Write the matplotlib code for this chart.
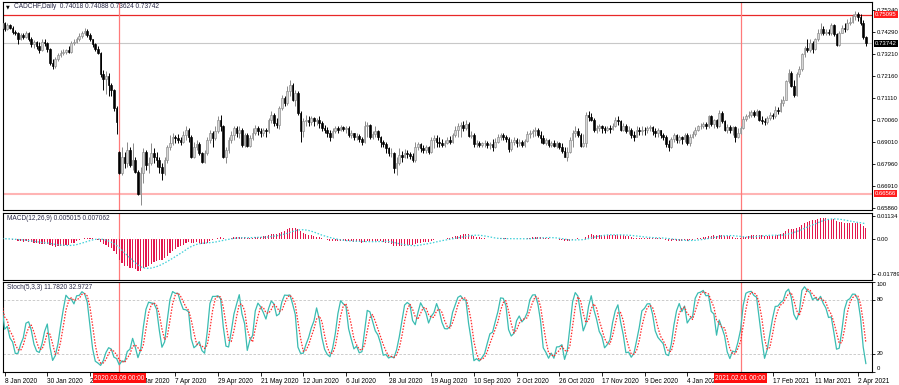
import numpy as np
import pandas as pd
import matplotlib
matplotlib.use("Agg")
import matplotlib.pyplot as plt
from matplotlib.transforms import blended_transform_factory

plt.rcParams['font.family'] = ['Liberation Sans', 'DejaVu Sans']

# ---------------- data (CADCHF daily, bars 3..327 counted from 2 Jan 2020) ----------------
FIRST_BAR = 3
FIRST_OPEN = 0.7449
GAP_OPENS = {47: 0.6857, 327: 0.74018}

close = [
    0.7470, 0.7444, 0.7460, 0.7449, 0.7428, 0.7422, 0.7396, 0.7412, 0.7406, 0.7425,
    0.7396, 0.7369, 0.7380, 0.7361, 0.7342, 0.7380, 0.7374, 0.7345, 0.7281, 0.7265,
    0.7297, 0.7316, 0.7329, 0.7332, 0.7342, 0.7332, 0.7374, 0.7380, 0.7396, 0.7409,
    0.7425, 0.7431, 0.7412, 0.7393, 0.7369, 0.7348, 0.7329, 0.7225, 0.7204, 0.7220,
    0.7177, 0.7153, 0.7065, 0.6996, 0.6753, 0.6833, 0.6801, 0.6865, 0.6793, 0.6817,
    0.6761, 0.6657, 0.6753, 0.6857, 0.6793, 0.6804, 0.6849, 0.6833, 0.6817, 0.6785,
    0.6753, 0.6817, 0.6881, 0.6897, 0.6929, 0.6921, 0.6913, 0.6905, 0.6937, 0.6961,
    0.6929, 0.6833, 0.6881, 0.6894, 0.6849, 0.6809, 0.6849, 0.6913, 0.6945, 0.6921,
    0.6953, 0.7009, 0.6977, 0.6833, 0.6865, 0.6913, 0.6937, 0.6969, 0.6945, 0.6961,
    0.6889, 0.6937, 0.6884, 0.6921, 0.6945, 0.6969, 0.6953, 0.6945, 0.6961, 0.6953,
    0.7009, 0.7033, 0.6993, 0.6985, 0.7065, 0.7113, 0.7089, 0.7145, 0.7177, 0.7105,
    0.7137, 0.7041, 0.6953, 0.7001, 0.7009, 0.6996, 0.7017, 0.7001, 0.7009, 0.6993,
    0.6969, 0.6958, 0.6948, 0.6926, 0.6953, 0.6969, 0.6961, 0.6974, 0.6964, 0.6969,
    0.6937, 0.6945, 0.6926, 0.6932, 0.6916, 0.6905, 0.6977, 0.6985, 0.6929, 0.6942,
    0.6953, 0.6926, 0.6905, 0.6894, 0.6873, 0.6849, 0.6852, 0.6777, 0.6801, 0.6841,
    0.6833, 0.6852, 0.6846, 0.6836, 0.6817, 0.6881, 0.6894, 0.6873, 0.6865, 0.6878,
    0.6857, 0.6913, 0.6921, 0.6905, 0.6897, 0.6889, 0.6900, 0.6913, 0.6905, 0.6937,
    0.6961, 0.6977, 0.6985, 0.6969, 0.6990, 0.6932, 0.6937, 0.6894, 0.6900, 0.6889,
    0.6897, 0.6900, 0.6889, 0.6894, 0.6881, 0.6905, 0.6929, 0.6937, 0.6926, 0.6916,
    0.6868, 0.6905, 0.6913, 0.6900, 0.6905, 0.6889, 0.6910, 0.6942, 0.6945, 0.6953,
    0.6961, 0.6937, 0.6921, 0.6900, 0.6913, 0.6889, 0.6900, 0.6884, 0.6897, 0.6881,
    0.6862, 0.6833, 0.6857, 0.6913, 0.6948, 0.6953, 0.6937, 0.6884, 0.6897, 0.7033,
    0.7022, 0.7009, 0.6958, 0.6969, 0.6977, 0.6969, 0.6961, 0.6969, 0.6964, 0.6980,
    0.7009, 0.7001, 0.6961, 0.6980, 0.6953, 0.6958, 0.6937, 0.6929, 0.6961, 0.6953,
    0.6961, 0.6958, 0.6969, 0.6974, 0.6953, 0.6945, 0.6958, 0.6937, 0.6926, 0.6894,
    0.6881, 0.6916, 0.6937, 0.6913, 0.6926, 0.6916, 0.6937, 0.6900, 0.6929, 0.6942,
    0.6961, 0.6977, 0.6980, 0.6990, 0.6977, 0.7025, 0.6990, 0.7006, 0.6980, 0.7041,
    0.7001, 0.6961, 0.6974, 0.6958, 0.6974, 0.6926, 0.6945, 0.6969, 0.7012, 0.7025,
    0.7033, 0.7044, 0.7033, 0.7049, 0.7009, 0.7001, 0.6996, 0.7017, 0.7033, 0.7025,
    0.7054, 0.7049, 0.7089, 0.7105, 0.7193, 0.7233, 0.7172, 0.7129, 0.7225, 0.7249,
    0.7321, 0.7353, 0.7342, 0.7377, 0.7348, 0.7393, 0.7425, 0.7444, 0.7425, 0.7428,
    0.7422, 0.7460, 0.7417, 0.7364, 0.7425, 0.7449, 0.7441, 0.7470, 0.7476, 0.7505,
    0.7513, 0.7497, 0.7473, 0.7404, 0.73742,
]

high = [
    0.7481, 0.7476, 0.7470, 0.7467, 0.7454, 0.7438, 0.7428, 0.7425, 0.7422, 0.7431,
    0.7428, 0.7406, 0.7390, 0.7387, 0.7380, 0.7393, 0.7396, 0.7380, 0.7353, 0.7297,
    0.7310, 0.7329, 0.7342, 0.7345, 0.7348, 0.7361, 0.7385, 0.7396, 0.7406, 0.7422,
    0.7433, 0.7447, 0.7441, 0.7425, 0.7396, 0.7377, 0.7361, 0.7332, 0.7246, 0.7241,
    0.7233, 0.7185, 0.7156, 0.7073, 0.6862, 0.6881, 0.6857, 0.6905, 0.6881, 0.6897,
    0.6833, 0.6769, 0.6785, 0.6873, 0.6865, 0.6833, 0.6897, 0.6873, 0.6857, 0.6833,
    0.6801, 0.6833, 0.6889, 0.6937, 0.6945, 0.6937, 0.6942, 0.6929, 0.6953, 0.6977,
    0.6969, 0.6937, 0.6905, 0.6913, 0.6905, 0.6857, 0.6865, 0.6929, 0.6961, 0.6953,
    0.6977, 0.7025, 0.7033, 0.6985, 0.6881, 0.6929, 0.6953, 0.6980, 0.6977, 0.6977,
    0.6969, 0.6945, 0.6945, 0.6937, 0.6969, 0.6985, 0.6977, 0.6969, 0.6969, 0.6969,
    0.7017, 0.7049, 0.7041, 0.7017, 0.7076, 0.7129, 0.7124, 0.7169, 0.7201, 0.7185,
    0.7153, 0.7145, 0.7049, 0.7017, 0.7033, 0.7025, 0.7028, 0.7022, 0.7017, 0.7025,
    0.7001, 0.6985, 0.6974, 0.6961, 0.6969, 0.6980, 0.6980, 0.6985, 0.6980, 0.6980,
    0.6977, 0.6958, 0.6948, 0.6945, 0.6942, 0.6929, 0.7001, 0.6996, 0.6990, 0.6953,
    0.6977, 0.6961, 0.6932, 0.6913, 0.6905, 0.6881, 0.6873, 0.6857, 0.6833, 0.6873,
    0.6862, 0.6868, 0.6865, 0.6857, 0.6849, 0.6905, 0.6905, 0.6900, 0.6889, 0.6889,
    0.6884, 0.6929, 0.6937, 0.6937, 0.6926, 0.6916, 0.6913, 0.6929, 0.6932, 0.6948,
    0.6980, 0.6993, 0.6996, 0.7001, 0.7006, 0.6996, 0.6953, 0.6945, 0.6913, 0.6910,
    0.6905, 0.6913, 0.6910, 0.6905, 0.6916, 0.6921, 0.6942, 0.6948, 0.6945, 0.6937,
    0.6926, 0.6916, 0.6926, 0.6921, 0.6916, 0.6913, 0.6916, 0.6953, 0.6958, 0.6964,
    0.6974, 0.6972, 0.6953, 0.6937, 0.6921, 0.6916, 0.6910, 0.6913, 0.6910, 0.6905,
    0.6897, 0.6881, 0.6881, 0.6929, 0.6958, 0.6977, 0.6969, 0.6945, 0.6942, 0.7044,
    0.7049, 0.7041, 0.7017, 0.6985, 0.6990, 0.6985, 0.6980, 0.6980, 0.6985, 0.6993,
    0.7022, 0.7025, 0.7009, 0.6993, 0.6990, 0.6977, 0.6969, 0.6953, 0.6977, 0.6974,
    0.6977, 0.6974, 0.6980, 0.6985, 0.6980, 0.6969, 0.6969, 0.6961, 0.6948, 0.6937,
    0.6913, 0.6929, 0.6945, 0.6942, 0.6937, 0.6932, 0.6945, 0.6945, 0.6942, 0.6953,
    0.6974, 0.6985, 0.6993, 0.6996, 0.6996, 0.7033, 0.7033, 0.7012, 0.7012, 0.7057,
    0.7049, 0.7009, 0.6990, 0.6985, 0.6980, 0.6980, 0.6969, 0.6977, 0.7025, 0.7038,
    0.7049, 0.7054, 0.7057, 0.7060, 0.7054, 0.7025, 0.7017, 0.7025, 0.7044, 0.7041,
    0.7073, 0.7070, 0.7108, 0.7121, 0.7201, 0.7249, 0.7241, 0.7201, 0.7236, 0.7265,
    0.7329, 0.7361, 0.7396, 0.7393, 0.7385, 0.7401, 0.7444, 0.7473, 0.7457, 0.7444,
    0.7441, 0.7473, 0.7465, 0.7425, 0.7433, 0.7460, 0.7470, 0.7489, 0.7497, 0.7513,
    0.7529, 0.7521, 0.7513, 0.7486, 0.74088,
]

low = [
    0.7438, 0.7433, 0.7438, 0.7441, 0.7419, 0.7412, 0.7369, 0.7390, 0.7396, 0.7399,
    0.7387, 0.7358, 0.7353, 0.7345, 0.7329, 0.7337, 0.7361, 0.7332, 0.7271, 0.7249,
    0.7257, 0.7287, 0.7310, 0.7316, 0.7321, 0.7326, 0.7329, 0.7364, 0.7374, 0.7387,
    0.7401, 0.7412, 0.7406, 0.7385, 0.7358, 0.7337, 0.7321, 0.7214, 0.7153, 0.7134,
    0.7121, 0.7124, 0.7049, 0.6942, 0.6750, 0.6745, 0.6777, 0.6785, 0.6785, 0.6769,
    0.6753, 0.6649, 0.6601, 0.6708, 0.6769, 0.6753, 0.6793, 0.6801, 0.6785, 0.6753,
    0.6724, 0.6745, 0.6801, 0.6865, 0.6889, 0.6900, 0.6897, 0.6889, 0.6897, 0.6913,
    0.6905, 0.6825, 0.6825, 0.6865, 0.6841, 0.6801, 0.6801, 0.6841, 0.6897, 0.6881,
    0.6913, 0.6945, 0.6953, 0.6825, 0.6801, 0.6849, 0.6897, 0.6913, 0.6929, 0.6921,
    0.6881, 0.6881, 0.6878, 0.6881, 0.6913, 0.6937, 0.6937, 0.6929, 0.6932, 0.6929,
    0.6948, 0.6993, 0.6980, 0.6969, 0.6964, 0.7057, 0.7073, 0.7081, 0.7121, 0.7097,
    0.7073, 0.7033, 0.6905, 0.6929, 0.6977, 0.6977, 0.6985, 0.6980, 0.6985, 0.6969,
    0.6953, 0.6945, 0.6929, 0.6910, 0.6921, 0.6948, 0.6945, 0.6953, 0.6953, 0.6948,
    0.6926, 0.6921, 0.6913, 0.6913, 0.6905, 0.6889, 0.6897, 0.6926, 0.6916, 0.6916,
    0.6929, 0.6913, 0.6881, 0.6878, 0.6849, 0.6836, 0.6830, 0.6753, 0.6745, 0.6793,
    0.6809, 0.6825, 0.6825, 0.6820, 0.6809, 0.6809, 0.6865, 0.6857, 0.6849, 0.6852,
    0.6846, 0.6852, 0.6873, 0.6881, 0.6881, 0.6878, 0.6881, 0.6894, 0.6894, 0.6897,
    0.6926, 0.6926, 0.6926, 0.6953, 0.6958, 0.6926, 0.6921, 0.6881, 0.6881, 0.6878,
    0.6878, 0.6881, 0.6873, 0.6868, 0.6862, 0.6873, 0.6897, 0.6913, 0.6913, 0.6905,
    0.6857, 0.6862, 0.6889, 0.6881, 0.6884, 0.6878, 0.6881, 0.6905, 0.6921, 0.6929,
    0.6932, 0.6929, 0.6900, 0.6894, 0.6889, 0.6881, 0.6881, 0.6878, 0.6873, 0.6868,
    0.6852, 0.6830, 0.6814, 0.6849, 0.6881, 0.6929, 0.6926, 0.6878, 0.6881, 0.6881,
    0.7001, 0.7001, 0.6951, 0.6945, 0.6953, 0.6948, 0.6948, 0.6953, 0.6948, 0.6958,
    0.6974, 0.6985, 0.6953, 0.6953, 0.6945, 0.6942, 0.6921, 0.6910, 0.6926, 0.6937,
    0.6937, 0.6937, 0.6948, 0.6953, 0.6937, 0.6929, 0.6929, 0.6921, 0.6913, 0.6881,
    0.6860, 0.6873, 0.6905, 0.6897, 0.6900, 0.6894, 0.6905, 0.6889, 0.6884, 0.6921,
    0.6932, 0.6953, 0.6964, 0.6969, 0.6964, 0.6969, 0.6980, 0.6969, 0.6969, 0.6974,
    0.6993, 0.6953, 0.6948, 0.6945, 0.6937, 0.6905, 0.6921, 0.6942, 0.6964, 0.7001,
    0.7017, 0.7022, 0.7022, 0.7025, 0.7001, 0.6990, 0.6985, 0.6990, 0.7009, 0.7015,
    0.7017, 0.7038, 0.7044, 0.7076, 0.7102, 0.7185, 0.7166, 0.7118, 0.7121, 0.7214,
    0.7241, 0.7310, 0.7332, 0.7332, 0.7329, 0.7342, 0.7385, 0.7412, 0.7412, 0.7415,
    0.7412, 0.7415, 0.7409, 0.7361, 0.7361, 0.7422, 0.7428, 0.7438, 0.7460, 0.7470,
    0.7486, 0.7481, 0.7460, 0.7396, 0.73624,
]

price_ticks = [0.75340, 0.74290, 0.73210, 0.72160, 0.71110, 0.70060, 0.69010, 0.67960, 0.66910, 0.65860]
level_high = 0.75095
level_bid = 0.73742
level_low = 0.66566
macd_ticks = [0.01134, 0.0, -0.01789]
macd_tick_labels = ['0.01134', '0.00', '-0.01789']
stoch_ticks = [100, 80, 20, 0]
marker_bars = [47, 280]
marker_labels = ['2020.03.09 00:00', '2021.02.01 00:00']
title_text = 'CADCHF,Daily  0.74018 0.74088 0.73624 0.73742'
macd_text = 'MACD(12,26,9) 0.005015 0.007062'
stoch_text = 'Stoch(5,3,3) 11.7820 32.9727'

# ---------------- derived series ----------------
c = np.array(close)
h = np.array(high)
l = np.array(low)
n = len(c)
o = np.concatenate([[FIRST_OPEN], c[:-1]])
for b, v in GAP_OPENS.items():
    o[b - FIRST_BAR] = v
h = np.maximum(h, np.maximum(o, c))
l = np.minimum(l, np.minimum(o, c))
x = np.arange(FIRST_BAR, FIRST_BAR + n)

dates = pd.bdate_range('2020-01-07', '2021-04-07')
dates = dates[~dates.isin(pd.to_datetime(['2020-12-25', '2021-01-01']))][:n]

cs = pd.Series(c)
macd = (cs.ewm(span=12, adjust=False).mean() - cs.ewm(span=26, adjust=False).mean()).values
signal = pd.Series(macd).rolling(9, min_periods=1).mean().values

hs, ls = pd.Series(h), pd.Series(l)
hh = hs.rolling(5, min_periods=1).max()
ll = ls.rolling(5, min_periods=1).min()
k = 100 * (cs - ll).rolling(3, min_periods=1).sum() / (hh - ll).rolling(3, min_periods=1).sum()
d = k.rolling(3, min_periods=1).mean()

# ---------------- figure ----------------
W, H = 899, 385
fig = plt.figure(figsize=(W / 100, H / 100), dpi=100)
fig.patch.set_facecolor('white')


def rect(x0, y0, x1, y1):
    return [x0 / W, 1 - y1 / H, (x1 - x0) / W, (y1 - y0) / H]


ax1 = fig.add_axes(rect(3, 2, 872, 210))
ax2 = fig.add_axes(rect(3, 212.5, 872, 280))
ax3 = fig.add_axes(rect(3, 282, 872, 371.5))

FS = 4.7
FSY = 4.35
XLIM = (3.39, 329.3)
for ax in (ax1, ax2, ax3):
    ax.set_xlim(*XLIM)
    for s in ax.spines.values():
        s.set_color('black')
        s.set_linewidth(0.8)
    ax.yaxis.tick_right()
    ax.tick_params(axis='y', direction='out', length=2.5, width=0.6, labelsize=FSY, pad=1.0, colors='black')
    ax.set_facecolor('white')
    for b in marker_bars:
        ax.axvline(b, color='#ff7a7a', lw=0.9, zorder=0.6)

# price candles
ax1.set_ylim(0.65785, 0.75708)
ax1.axhline(level_high, color='#e82828', lw=0.9, zorder=0.5)
ax1.axhline(level_bid, color='#c8c8c8', lw=0.8, zorder=0.5)
ax1.axhline(level_low, color='#ffb4b4', lw=1.5, zorder=0.5)
up = c >= o
ax1.vlines(x[up], l[up], h[up], color='#8a8a8a', lw=0.7, zorder=2)
ax1.vlines(x[~up], l[~up], h[~up], color='black', lw=0.7, zorder=2)
blo = np.minimum(o, c)
bh = np.maximum(np.abs(c - o), 0.00006)
ax1.bar(x[up], bh[up], bottom=blo[up], width=0.62, color='#d6d6d6', edgecolor='#8a8a8a', lw=0.45, zorder=3)
ax1.bar(x[~up], bh[~up], bottom=blo[~up], width=0.62, color='black', edgecolor='black', lw=0.45, zorder=3)
ax1.set_yticks(price_ticks)
ax1.set_yticklabels([f'{t:.5f}' for t in price_ticks])
ax1.set_xticks([])

tr1 = blended_transform_factory(ax1.transAxes, ax1.transData)
for val, fc in ((level_high, '#ff1c1c'), (level_bid, 'black'), (level_low, '#ff1c1c')):
    ax1.text(1.0035, val, f'{val:.5f}', transform=tr1, color='white', fontsize=FSY,
             va='center', ha='left', clip_on=False, zorder=10,
             bbox=dict(boxstyle='square,pad=0.18', fc=fc, ec='none'))

# MACD
ax2.set_ylim(-0.0209, 0.0131)
ax2.bar(x, macd, width=0.42, color='#e3164c', zorder=2)
ax2.plot(x, signal, color='#3fcfd8', lw=0.9, ls=(0, (1.2, 1.4)), zorder=3)
ax2.set_yticks(macd_ticks)
ax2.set_yticklabels(macd_tick_labels)
ax2.set_xticks([])

# Stochastic
ax3.set_ylim(0, 100)
ax3.axhline(80, color='#c4c4c4', lw=0.6, ls=(0, (3, 2)), zorder=0.5)
ax3.axhline(20, color='#c4c4c4', lw=0.6, ls=(0, (3, 2)), zorder=0.5)
ax3.plot(x, k.values, color='#3bbcb2', lw=0.9, zorder=3)
ax3.plot(x, d.values, color='#ff2a2a', lw=0.9, ls=(0, (1.2, 1.2)), zorder=4)
ax3.set_yticks(stoch_ticks)
ax3.set_yticklabels([str(t) for t in stoch_ticks])
for lab, t in zip(ax3.get_yticklabels(), stoch_ticks):
    lab.set_va('top' if t == 100 else ('bottom' if t == 0 else 'center'))

tick_bars = [b for b in x if (b - 4) % 16 == 0]
tick_labels = [f'{dates[b - FIRST_BAR].day} {dates[b - FIRST_BAR].strftime("%b %Y")}' for b in tick_bars]
ax3.set_xticks(tick_bars)
ax3.set_xticklabels(tick_labels)
ax3.tick_params(axis='x', direction='out', length=3, width=0.6, labelsize=FS, pad=1.5, colors='black')
for lab in ax3.get_xticklabels():
    lab.set_ha('left')

tr3 = blended_transform_factory(ax3.transData, ax3.transAxes)
for b, txt in zip(marker_bars, marker_labels):
    ax3.text(b, -0.075, txt, transform=tr3, color='white', fontsize=FS, ha='center', va='center',
             clip_on=False, zorder=10, bbox=dict(boxstyle='square,pad=0.2', fc='#ff1010', ec='none'))

# panel captions
fig.text(6 / W, 1 - 7 / H, '\u25bc', fontsize=3.5, family='DejaVu Sans', va='center', ha='left', color='black')
fig.text(14 / W, 1 - 7 / H, title_text, fontsize=FS, va='center', ha='left', color='#2a2a48')
fig.text(7 / W, 1 - 218.3 / H, macd_text, fontsize=FS, va='center', ha='left', color='#2a2a48')
fig.text(7 / W, 1 - 287.3 / H, stoch_text, fontsize=FS, va='center', ha='left', color='#2a2a48')

fig.savefig('out.png', dpi=100)
